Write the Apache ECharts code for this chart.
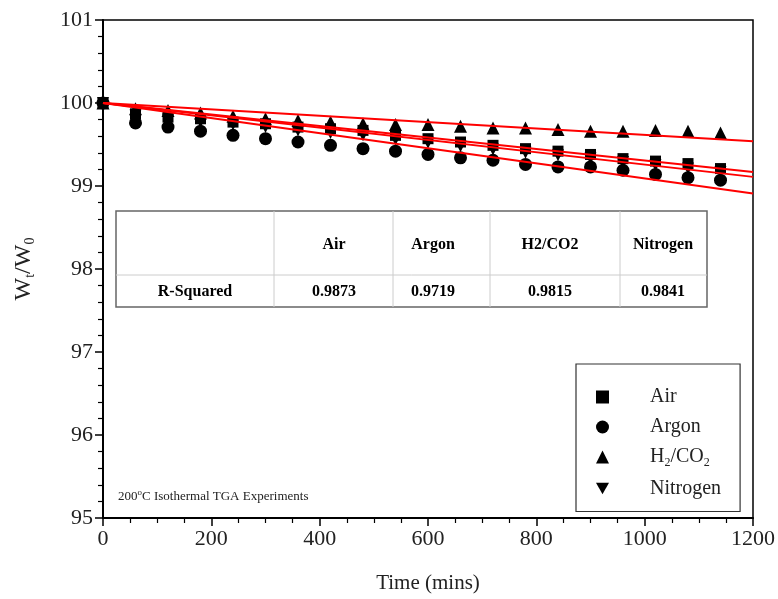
<!DOCTYPE html>
<html>
<head>
<meta charset="utf-8">
<script src="https://cdn.jsdelivr.net/npm/echarts@6/dist/echarts.min.js"></script>
<style>
  html, body { margin: 0; padding: 0; background: #fff; }
  #main { width: 778px; height: 599px; }
</style>
</head>
<body>
<div id="main"></div>
<script>
// time in minutes
const times = [0, 60, 120, 180, 240, 300, 360, 420, 480, 540, 600, 660, 720, 780, 840, 900, 960, 1020, 1080, 1140]
const airVals = [100, 99.87, 99.83, 99.81, 99.77, 99.75, 99.71, 99.69, 99.67, 99.61, 99.57, 99.53, 99.49, 99.45, 99.42, 99.38, 99.33, 99.30, 99.27, 99.21]
const argonVals = [100, 99.76, 99.71, 99.66, 99.61, 99.57, 99.53, 99.49, 99.45, 99.42, 99.38, 99.34, 99.31, 99.26, 99.23, 99.23, 99.19, 99.14, 99.10, 99.07]
const h2co2Vals = [100, 99.93, 99.91, 99.88, 99.84, 99.81, 99.79, 99.77, 99.75, 99.74, 99.74, 99.72, 99.70, 99.70, 99.68, 99.66, 99.66, 99.67, 99.66, 99.64]
const nitrogenVals = [100, 99.85, 99.80, 99.77, 99.74, 99.71, 99.67, 99.64, 99.61, 99.56, 99.52, 99.48, 99.44, 99.40, 99.37, 99.33, 99.29, 99.25, 99.21, 99.17]

// linear fits: value at t = 0 and t = 1200
const fitX = [0, 1200]
const airFit = [100, 99.17]
const argonFit = [100, 98.91]
const h2co2Fit = [100, 99.54]
const nitrogenFit = [100, 99.11]

// R-squared table
const tableHeads = ['', 'Air', 'Argon', 'H2/CO2', 'Nitrogen']
const tableRow = ['R-Squared', '0.9873', '0.9719', '0.9815', '0.9841']

const serif = '"Liberation Serif", "Times New Roman", serif'
const downTri = 'path://M0,0 L10,0 L5,9 Z'

function pairs(xs, ys) {
  return xs.map((x, i) => [x, ys[i]])
}

function scatter(name, vals, symbol, size) {
  return {
    name: name,
    type: 'scatter',
    data: pairs(times, vals),
    symbol: symbol,
    symbolSize: size,
    itemStyle: { color: '#000', opacity: 1 },
    z: 3
  }
}

function fitLine(vals) {
  return {
    type: 'line',
    data: pairs(fitX, vals),
    showSymbol: false,
    lineStyle: { color: '#ff0000', width: 2 },
    silent: true,
    z: 4
  }
}

// table drawn with graphic elements
const tLeft = 116
const tRight = 707
const tDiv = [274, 393, 490, 620]
const tCenters = [195, 334, 433, 550, 663]
const tTop = 211
const tMid = 275
const tBot = 307
const tableGraphic = []
tableGraphic.push({
  type: 'rect',
  shape: { x: tLeft, y: tTop, width: tRight - tLeft, height: tBot - tTop },
  style: { fill: '#fff', stroke: '#666', lineWidth: 1.5 },
  z: 10
})
tableGraphic.push({
  type: 'line',
  shape: { x1: tLeft, y1: tMid, x2: tRight, y2: tMid },
  style: { stroke: '#ccc', lineWidth: 1 },
  z: 11
})
tDiv.forEach(x => {
  tableGraphic.push({
    type: 'line',
    shape: { x1: x, y1: tTop, x2: x, y2: tBot },
    style: { stroke: '#ccc', lineWidth: 1 },
    z: 11
  })
})
for (let i = 0; i < 5; i++) {
  tableGraphic.push({
    type: 'text',
    x: tCenters[i], y: (tTop + tMid) / 2 + 2,
    style: { text: tableHeads[i], font: 'bold 16px ' + serif, fill: '#000', align: 'center', verticalAlign: 'middle' },
    z: 12
  })
  tableGraphic.push({
    type: 'text',
    x: tCenters[i], y: (tMid + tBot) / 2 + 1,
    style: { text: tableRow[i], font: 'bold 16px ' + serif, fill: '#000', align: 'center', verticalAlign: 'middle' },
    z: 12
  })
}

const chart = echarts.init(document.getElementById('main'))
chart.setOption({
  animation: false,
  backgroundColor: '#fff',
  grid: {
    left: 103, right: 25, top: 20, bottom: 79,
    show: true, borderColor: '#000', borderWidth: 1.5
  },
  xAxis: {
    type: 'value',
    min: 0, max: 1200, interval: 200,
    name: 'Time (mins)',
    nameLocation: 'middle',
    nameGap: 55,
    nameTextStyle: { fontFamily: serif, fontSize: 21, color: '#222' },
    axisLine: { show: true, onZero: false, lineStyle: { color: '#000', width: 2 } },
    axisTick: { show: true, length: 8, lineStyle: { color: '#000', width: 1.5 } },
    minorTick: { show: true, splitNumber: 4, length: 5, lineStyle: { color: '#000', width: 1.2 } },
    splitLine: { show: false },
    axisLabel: { fontFamily: serif, fontSize: 22, color: '#222', margin: 10, formatter: v => String(v) }
  },
  yAxis: {
    type: 'value',
    min: 95, max: 101, interval: 1,
    name: '{m|W}{s|t}{m|/W}{s|0}',
    nameLocation: 'middle',
    nameGap: 66,
    nameRotate: 90,
    nameTextStyle: {
      rich: {
        m: { fontFamily: serif, fontSize: 24, color: '#222' },
        s: { fontFamily: serif, fontSize: 14, color: '#222', padding: [13, 0, 0, 0] }
      }
    },
    axisLine: { show: true, onZero: false, lineStyle: { color: '#000', width: 2 } },
    axisTick: { show: true, length: 8, lineStyle: { color: '#000', width: 1.5 } },
    minorTick: { show: true, splitNumber: 5, length: 5, lineStyle: { color: '#000', width: 1.2 } },
    splitLine: { show: false },
    axisLabel: { fontFamily: serif, fontSize: 22, color: '#222', margin: 10 }
  },
  legend: {
    orient: 'vertical',
    left: 576, top: 364,
    padding: [23, 19, 13, 20],
    itemGap: 10,
    itemWidth: 13,
    itemHeight: 13,
    borderColor: '#333',
    borderWidth: 1.2,
    backgroundColor: '#fff',
    data: [
      { name: 'Air', icon: 'rect' },
      { name: 'Argon', icon: 'circle' },
      { name: 'H2/CO2', icon: 'triangle' },
      { name: 'Nitrogen', icon: downTri }
    ],
    formatter: function (name) {
      if (name === 'H2/CO2') return '{m|H}{s|2}{m|/CO}{s|2}'
      return '{m|' + name + '}'
    },
    textStyle: {
      padding: [0, 0, 0, 36],
      rich: {
        m: { fontFamily: serif, fontSize: 20, color: '#222' },
        s: { fontFamily: serif, fontSize: 12, color: '#222', padding: [11, 0, 0, 0] }
      }
    }
  },
  graphic: tableGraphic.concat([
    {
      type: 'text',
      left: 118, top: 488,
      style: {
        text: '{m|200}{p|o}{m|C Isothermal TGA Experiments}',
        rich: {
          m: { fontFamily: serif, fontSize: 13, fill: '#222' },
          p: { fontFamily: serif, fontSize: 9, fill: '#222', padding: [0, 0, 8, 0] }
        }
      },
      z: 12
    }
  ]),
  series: [
    scatter('Air', airVals, 'rect', 11),
    scatter('Argon', argonVals, 'circle', 13),
    scatter('H2/CO2', h2co2Vals, 'triangle', 13),
    scatter('Nitrogen', nitrogenVals, downTri, 12),
    fitLine(airFit),
    fitLine(argonFit),
    fitLine(h2co2Fit),
    fitLine(nitrogenFit)
  ]
})
</script>
</body>
</html>
